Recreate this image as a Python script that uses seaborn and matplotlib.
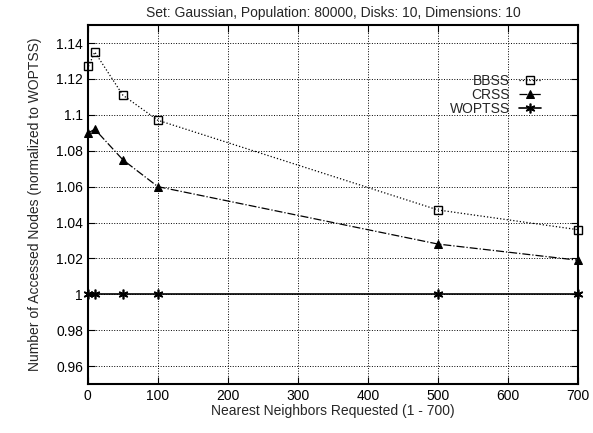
import numpy as np
import pandas as pd
import matplotlib
matplotlib.use('Agg')
import matplotlib.pyplot as plt
import seaborn as sns

# Data
neighbors = [1, 10, 50, 100, 500, 700]
bbss = [1.127, 1.135, 1.111, 1.097, 1.047, 1.036]
crss = [1.090, 1.092, 1.075, 1.060, 1.028, 1.019]
woptss = [1.0, 1.0, 1.0, 1.0, 1.0, 1.0]

x_ticks = [0, 100, 200, 300, 400, 500, 600, 700]
y_ticks = [0.96, 0.98, 1.0, 1.02, 1.04, 1.06, 1.08, 1.1, 1.12, 1.14]
y_labels = ['0.96', '0.98', '1', '1.02', '1.04', '1.06', '1.08', '1.1', '1.12', '1.14']

sns.set_style('ticks')
plt.rcParams['font.family'] = ['Liberation Sans', 'DejaVu Sans']

fig = plt.figure(figsize=(5.93, 4.33), dpi=100)
ax = fig.add_axes([0.148, 0.113, 0.827, 0.829])

sns.lineplot(x=neighbors, y=bbss, ax=ax, color='black', linestyle=':', linewidth=0.9,
             marker='s', markersize=6, markerfacecolor='none', markeredgecolor='black',
             markeredgewidth=1, label='BBSS', clip_on=False)
sns.lineplot(x=neighbors, y=crss, ax=ax, color='black', linestyle='-.', linewidth=0.9,
             marker='^', markersize=6, markerfacecolor='black', markeredgecolor='black',
             label='CRSS', clip_on=False)
sns.lineplot(x=neighbors, y=woptss, ax=ax, color='black', linestyle='-', linewidth=1.2,
             marker=(6, 2, 0), markersize=7, markeredgewidth=1.2, markeredgecolor='black',
             label='WOPTSS', clip_on=False)

ax.set_xlim(0, 700)
ax.set_ylim(0.95, 1.15)
ax.set_xticks(x_ticks)
ax.set_yticks(y_ticks)
ax.set_yticklabels(y_labels)
ax.grid(True, linestyle=':', color='black', linewidth=0.7)
ax.tick_params(direction='in', top=True, right=True, length=5, labelsize=10, colors='black')
for s in ax.spines.values():
    s.set_linewidth(1.5)
    s.set_color('black')

ax.set_title('Set: Gaussian, Population: 80000, Disks: 10, Dimensions: 10', fontsize=10, pad=6)
ax.set_xlabel('Nearest Neighbors Requested (1 - 700)', fontsize=10, labelpad=1)
ax.set_ylabel('Number of Accessed Nodes (normalized to WOPTSS)', fontsize=10, labelpad=10)

leg = ax.legend(loc='upper right', bbox_to_anchor=(0.935, 0.88), frameon=False,
                markerfirst=False, fontsize=10, handlelength=1.6, labelspacing=0.0,
                handletextpad=0.6, borderaxespad=0)

plt.savefig('out.png', dpi=100)
